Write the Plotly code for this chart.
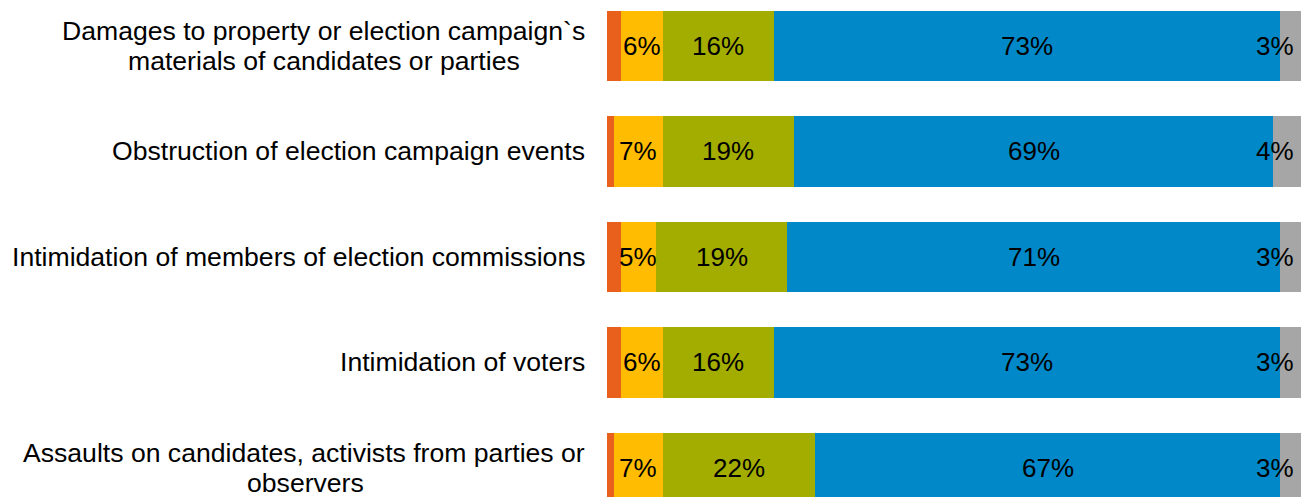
import plotly.graph_objects as go

# Survey categories, top to bottom (lines of each label)
categories = [
    ["Damages to property or election campaign`s", "materials of candidates or parties"],
    ["Obstruction of election campaign events"],
    ["Intimidation of members of election commissions"],
    ["Intimidation of voters"],
    ["Assaults on candidates, activists from parties or", "observers"],
]

# Shares (%) per answer group
orange_vals = [2, 1, 2, 2, 1]
yellow_vals = [6, 7, 5, 6, 7]
olive_vals = [16, 19, 19, 16, 22]
blue_vals = [73, 69, 71, 73, 67]
gray_vals = [3, 4, 3, 3, 3]

cat_keys = [" ".join(lines) for lines in categories]

series = [
    ("Group 1", orange_vals, "#E8601C", False),
    ("Group 2", yellow_vals, "#FFBC00", True),
    ("Group 3", olive_vals, "#A2AD00", True),
    ("Group 4", blue_vals, "#0088C8", True),
    ("Group 5", gray_vals, "#A6A6A6", True),
]

FONT = "Liberation Sans, Arial, Helvetica, sans-serif"
LABEL_SIZE = 26.6
VALUE_SIZE = 26
LINE_GAP = 30  # px between lines of a wrapped category label

# Arial / Liberation Sans advance widths (1/1000 em) for centring wrapped lines
_W = {c: w for c, w in zip("abcdefghijklmnopqrstuvwxyz",
      [556, 556, 500, 556, 556, 278, 556, 556, 222, 222, 500, 222, 833,
       556, 556, 556, 556, 333, 500, 278, 556, 500, 722, 500, 500, 500])}
_W.update({" ": 278, ",": 278, "`": 333, "A": 667, "D": 722, "I": 278, "O": 778})


def text_width(s, size):
    return sum(_W.get(ch, 556) for ch in s) * size / 1000.0


fig = go.Figure()
for name, vals, color, _ in series:
    fig.add_trace(go.Bar(
        y=cat_keys, x=vals, name=name, orientation="h",
        marker=dict(color=color, line=dict(width=0)),
        hoverinfo="x+name",
    ))

annotations = []
# value labels centred in each segment; last segment right-aligned at bar end
cum = [0.0] * len(cat_keys)
for si, (name, vals, color, labelled) in enumerate(series):
    for i, v in enumerate(vals):
        start = cum[i]
        end = start + v
        cum[i] = end
        if not labelled:
            continue
        last = si == len(series) - 1
        annotations.append(dict(
            x=end if last else (start + end) / 2, y=cat_keys[i],
            xref="x", yref="y", text=f"{v}%", showarrow=False,
            xanchor="right" if last else "center", xshift=-5 if last else 0,
            font=dict(family=FONT, size=VALUE_SIZE, color="#000000"),
        ))

# category labels to the left of the bars; wrapped lines centred on the first
GAP = 20
for key, lines in zip(cat_keys, categories):
    n = len(lines)
    first_w = text_width(lines[0], LABEL_SIZE)
    for j, line in enumerate(lines):
        yshift = ((n - 1) / 2 - j) * LINE_GAP
        if j == 0:
            anchor, xshift = "right", -GAP
        else:
            anchor, xshift = "center", -GAP - 1 - first_w / 2
        annotations.append(dict(
            x=0, y=key, xref="x", yref="y", text=line, showarrow=False,
            xanchor=anchor, xshift=xshift, yshift=yshift,
            font=dict(family=FONT, size=LABEL_SIZE, color="#000000"),
        ))

fig.update_layout(
    barmode="stack",
    bargap=0.336,
    width=1301, height=497,
    margin=dict(l=607, r=0, t=0, b=0),
    paper_bgcolor="white", plot_bgcolor="white",
    showlegend=False,
    annotations=annotations,
    xaxis=dict(range=[0, 100.01], showticklabels=False, showgrid=False,
               zeroline=False, showline=False, fixedrange=True),
    yaxis=dict(categoryorder="array", categoryarray=cat_keys,
               range=[4.275, -0.436], showticklabels=False, showgrid=False,
               zeroline=False, showline=False, fixedrange=True),
)

fig.write_html("out.html", config={"displayModeBar": False})
